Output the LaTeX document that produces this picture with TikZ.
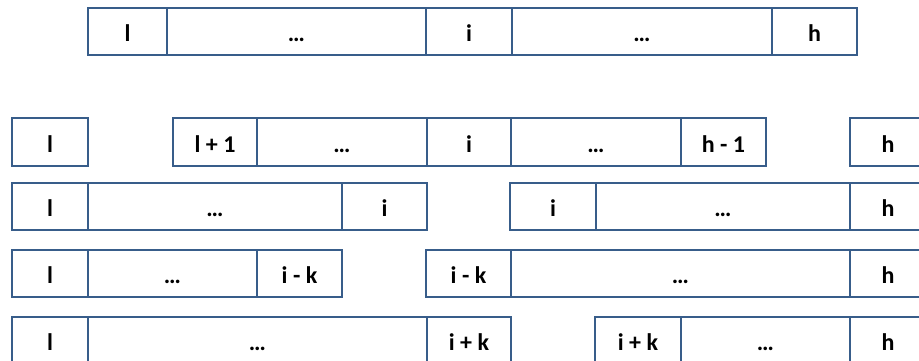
\documentclass[tikz,border=0pt]{standalone}
\usepackage{fontspec}
\setmainfont{Carlito}
\definecolor{boxblue}{HTML}{385D8A}
\newcommand{\mycell}[6]{% name, x1, x2, y1, y2, text
  \pgfmathsetmacro{\cw}{#3-#2}\pgfmathsetmacro{\ch}{#5-#4}%
  \node[cellbox, minimum width=\cw pt, minimum height=\ch pt] (#1) at ({(#2+#3)/2},{(#4+#5)/2}) {#6};}
\begin{document}
\begin{tikzpicture}[x=1pt,y=-1pt,
  cellbox/.style={draw=boxblue, line width=1.8pt, inner sep=0pt, outer sep=0pt,
    font=\fontsize{24}{28}\selectfont\bfseries, text=black, fill=white,
    text height=20pt, text depth=0pt}]
\useasboundingbox (0,0) rectangle (919,360);
\clip (0,0) rectangle (919,360);
% top row
\mycell{t1}{88}{167}{8}{55}{l}
\mycell{t2}{167}{426}{8}{55}{…}
\mycell{t3}{426}{512}{8}{55}{i}
\mycell{t4}{512}{772}{8}{55}{…}
\mycell{t5}{772}{857}{8}{55}{h}
% row 2
\mycell{a1}{12}{88}{118}{166}{l}
\mycell{a2}{173}{257}{118}{166}{l + 1}
\mycell{a3}{257}{427}{118}{166}{…}
\mycell{a4}{427}{511}{118}{166}{i}
\mycell{a5}{511}{681}{118}{166}{…}
\mycell{a6}{681}{766}{118}{166}{h - 1}
\mycell{a7}{850}{926}{118}{166}{h}
% row 3
\mycell{b1}{12}{88}{183}{230}{l}
\mycell{b2}{88}{342}{183}{230}{…}
\mycell{b3}{342}{427}{183}{230}{i}
\mycell{b4}{510}{596}{183}{230}{i}
\mycell{b5}{596}{850}{183}{230}{…}
\mycell{b6}{850}{926}{183}{230}{h}
% row 4
\mycell{c1}{12}{88}{250}{297}{l}
\mycell{c2}{88}{257}{250}{297}{…}
\mycell{c3}{257}{342}{250}{297}{i - k}
\mycell{c4}{426}{511}{250}{297}{i - k}
\mycell{c5}{511}{850}{250}{297}{…}
\mycell{c6}{850}{926}{250}{297}{h}
% row 5
\mycell{d1}{12}{88}{317}{364}{l}
\mycell{d2}{88}{427}{317}{364}{…}
\mycell{d3}{427}{511}{317}{364}{i + k}
\mycell{d4}{595}{681}{317}{364}{i + k}
\mycell{d5}{681}{850}{317}{364}{…}
\mycell{d6}{850}{926}{317}{364}{h}
\end{tikzpicture}
\end{document}
